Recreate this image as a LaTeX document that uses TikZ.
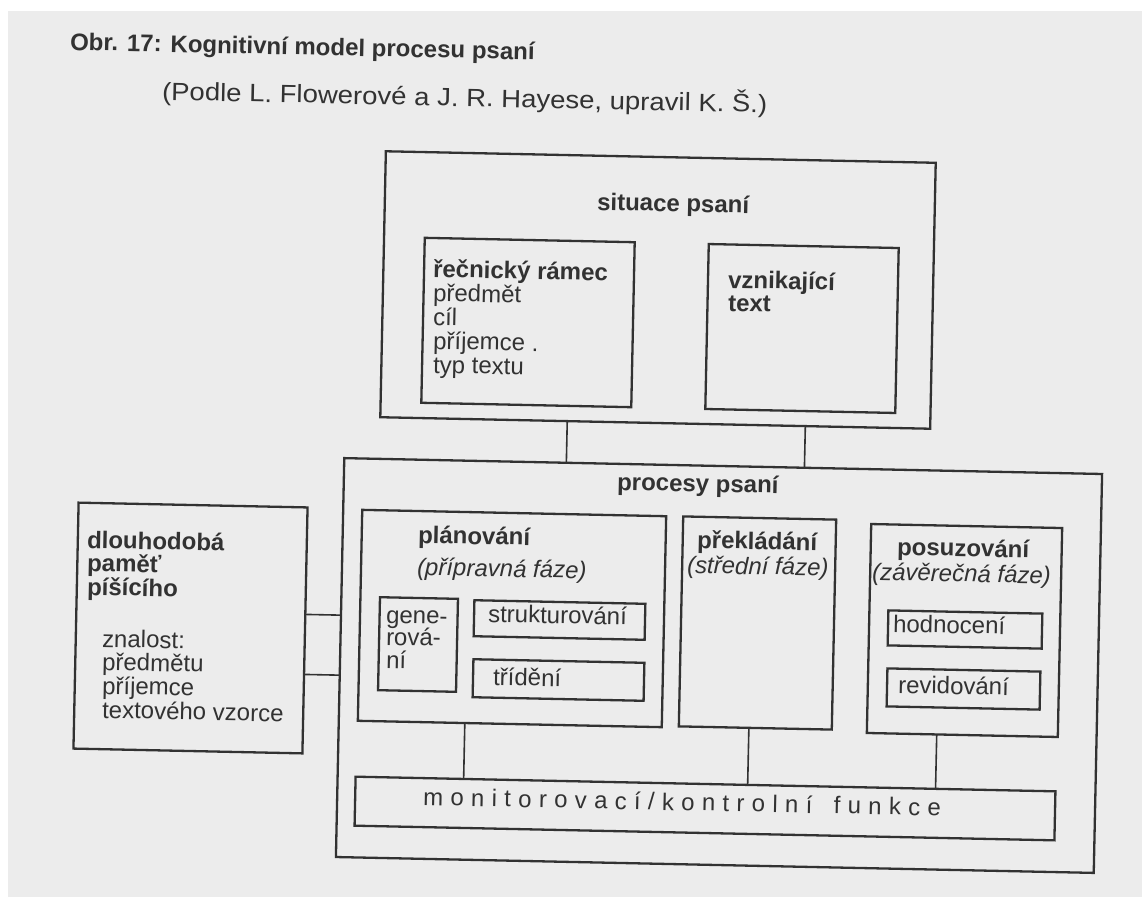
\documentclass[tikz,border=0pt]{standalone}
\usepackage{fontspec}
\setmainfont{Liberation Sans}
\usetikzlibrary{calc}
\definecolor{ink}{RGB}{50,50,50}
\definecolor{page}{RGB}{236,236,236}
\newcommand{\mylsp}{\kern7.3pt}
\begin{document}
\begin{tikzpicture}[x=1pt,y=-1pt,
  tilt/.style={rotate=-1.2},
  box/.style={tilt,draw=ink,line width=2.3pt,inner sep=0pt,outer sep=0pt},
  conn/.style={draw=ink,line width=1.6pt},
  lbl/.style={tilt,anchor=base west,inner sep=0pt,outer sep=0pt,text=ink,font=\fontsize{24}{24}\selectfont},
  blbl/.style={lbl,font=\fontsize{24}{24}\selectfont\bfseries},
  ilbl/.style={lbl,font=\fontsize{24}{24}\selectfont\itshape},
]
\useasboundingbox (0,0) rectangle (1142,897);
\fill[white] (0,0) rectangle (1142,897);
\fill[page] (8,11) rectangle (1142,897);

% title
\node[blbl] (title) at (70,50) {Obr. 17: Kognitivní model procesu psaní};
\node[lbl,font=\fontsize{25}{25}\selectfont] (subtitle) at (162,100) {\scalebox{1.1}[1]{(Podle L. Flowerové a J. R. Hayese, upravil K. Š.)}};

% boxes
\node[box,minimum width=550pt,minimum height=266pt] (sit) at (658,290) {};
\node[box,minimum width=210pt,minimum height=165pt] (ram) at (528,322.5) {};
\node[box,minimum width=190pt,minimum height=165pt] (vzn) at (802,328.5) {};
\node[box,minimum width=758pt,minimum height=399pt] (proc) at (719,665.5) {};
\node[box,minimum width=229pt,minimum height=246pt] (dlo) at (190.5,628) {};
\node[box,minimum width=304pt,minimum height=211pt] (plan) at (512,618.5) {};
\node[box,minimum width=78pt,minimum height=93pt] (gen) at (418,644.5) {};
\node[box,minimum width=171pt,minimum height=36pt] (str) at (559.5,620) {};
\node[box,minimum width=171pt,minimum height=38pt] (tri) at (558.5,680) {};
\node[box,minimum width=153pt,minimum height=210pt] (prek) at (757.5,623) {};
\node[box,minimum width=191pt,minimum height=209pt] (pos) at (964.5,630.5) {};
\node[box,minimum width=154pt,minimum height=35pt] (hod) at (965,629.5) {};
\node[box,minimum width=153pt,minimum height=38pt] (rev) at (963.5,689) {};
\node[box,minimum width=700pt,minimum height=49pt] (mon) at (705,808.5) {};

% connectors
\coordinate (s1) at ($(sit.south west)!0.34!(sit.south east)$);
\coordinate (p1) at ($(proc.north west)!(s1)!(proc.north east)$);
\coordinate (s2) at ($(sit.south west)!0.773!(sit.south east)$);
\coordinate (p2) at ($(proc.north west)!(s2)!(proc.north east)$);
\draw[conn] (s1) -- (p1);
\draw[conn] (s2) -- (p2);
\coordinate (d1) at ($(dlo.north east)!0.435!(dlo.south east)$);
\coordinate (q1) at ($(proc.north west)!(d1)!(proc.south west)$);
\coordinate (d2) at ($(dlo.north east)!0.679!(dlo.south east)$);
\coordinate (q2) at ($(proc.north west)!(d2)!(proc.south west)$);
\draw[conn] (d1) -- (q1);
\draw[conn] (d2) -- (q2);
\coordinate (a1) at ($(plan.south west)!0.352!(plan.south east)$);
\coordinate (m1) at ($(mon.north west)!(a1)!(mon.north east)$);
\coordinate (a2) at ($(prek.south west)!0.458!(prek.south east)$);
\coordinate (m2) at ($(mon.north west)!(a2)!(mon.north east)$);
\coordinate (a3) at ($(pos.south west)!0.366!(pos.south east)$);
\coordinate (m3) at ($(mon.north west)!(a3)!(mon.north east)$);
\draw[conn] (a1) -- (m1);
\draw[conn] (a2) -- (m2);
\draw[conn] (a3) -- (m3);

% texts
\node[blbl] (tsit) at (597,210) {situace psaní};
\node[blbl] (r1) at (433,277) {řečnický rámec};
\node[lbl] (r2) at (433,301) {předmět};
\node[lbl] (r3) at (433,325) {cíl};
\node[lbl] (r4) at (433,349) {příjemce .};
\node[lbl] (r5) at (433,373) {typ textu};
\node[blbl] (v1) at (728,288) {vznikající};
\node[blbl] (v2) at (728,311) {text};

\node[blbl] (k1) at (87,548) {dlouhodobá};
\node[blbl] (k2) at (87,571) {paměť};
\node[blbl] (k3) at (87,595) {píšícího};
\node[lbl] (k4) at (102,647) {znalost:};
\node[lbl] (k5) at (102,670) {předmětu};
\node[lbl] (k6) at (102,694) {příjemce};
\node[lbl] (k7) at (102,718) {textového vzorce};

\node[blbl] (tproc) at (617,490) {procesy psaní};
\node[blbl] (pl1) at (418,543) {plánování};
\node[ilbl] (pl2) at (417,575) {(přípravná fáze)};
\node[lbl] (g1) at (386,623) {gene-};
\node[lbl] (g2) at (386,645) {rová-};
\node[lbl] (g3) at (386,668) {ní};
\node[lbl] (tstr) at (488,622) {strukturování};
\node[lbl] (ttri) at (493,685) {třídění};
\node[blbl] (pk1) at (697,548) {překládání};
\node[ilbl] (pk2) at (687,573) {(střední fáze)};
\node[blbl] (ps1) at (897,555) {posuzování};
\node[ilbl] (ps2) at (872,580) {(závěrečná fáze)};
\node[lbl] (thod) at (893,632) {hodnocení};
\node[lbl] (trev) at (898,693) {revidování};
\node[lbl] (tmon) at (423,805) {m\mylsp o\mylsp n\mylsp i\mylsp t\mylsp o\mylsp r\mylsp o\mylsp v\mylsp a\mylsp c\mylsp í\mylsp /\mylsp k\mylsp o\mylsp n\mylsp t\mylsp r\mylsp o\mylsp l\mylsp n\mylsp í\mylsp\ \mylsp f\mylsp u\mylsp n\mylsp k\mylsp c\mylsp e};
\end{tikzpicture}
\end{document}
